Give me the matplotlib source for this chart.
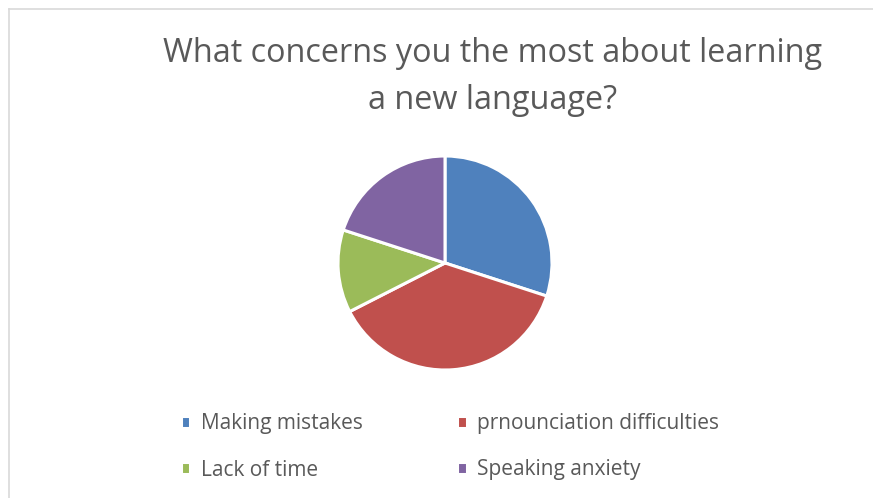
import matplotlib
matplotlib.use("Agg")
import matplotlib.pyplot as plt
from matplotlib.lines import Line2D

categories = ["Making mistakes", "prnounciation difficulties", "Lack of time", "Speaking anxiety"]
values = [12, 15, 5, 8]
colors = ["#4F81BD", "#C0504D", "#9BBB59", "#8064A2"]
title = "What concerns you the most about learning\na new language?"

W, H = 873, 498
fig = plt.figure(figsize=(W / 100, H / 100), dpi=100)
fig.patch.set_facecolor("white")

# chart frame (top and left edges visible)
fig.add_artist(Line2D([8.5 / W, 1], [1 - 9.5 / H, 1 - 9.5 / H], color="#D9D9D9", lw=1.2))
fig.add_artist(Line2D([8.5 / W, 8.5 / W], [0, 1 - 9.5 / H], color="#D9D9D9", lw=1.2))

# pie axes: centre (445, 263) px, radius 107 px
cx, cy, r = 445, 263, 107
ax = fig.add_axes([(cx - r) / W, (H - cy - r) / H, 2 * r / W, 2 * r / H])
wedges, _ = ax.pie(values, colors=colors, startangle=90, counterclock=False,
                   wedgeprops=dict(edgecolor="white", linewidth=2.2))
ax.set_xlim(-1, 1)
ax.set_ylim(-1, 1)
ax.set_aspect("equal")
ax.axis("off")

fig.text(493 / W, 1 - 77 / H, title, ha="center", va="center", fontsize=23.3,
         color="#595959", family="Open Sans", linespacing=1.55)

# legend entries laid out row by row in two columns
order = [0, 2, 1, 3]
leg = fig.legend([wedges[i] for i in order], [categories[i] for i in order],
                 ncol=2, loc="center left",
                 bbox_to_anchor=(162 / W, 1 - 447 / H), frameon=False,
                 prop=dict(family="Open Sans", size=15),
                 handlelength=0.45, handleheight=0.45, handletextpad=0.5,
                 columnspacing=4.55, labelspacing=1.2, labelcolor="#595959")

fig.savefig("out.png", dpi=100, facecolor="white")
